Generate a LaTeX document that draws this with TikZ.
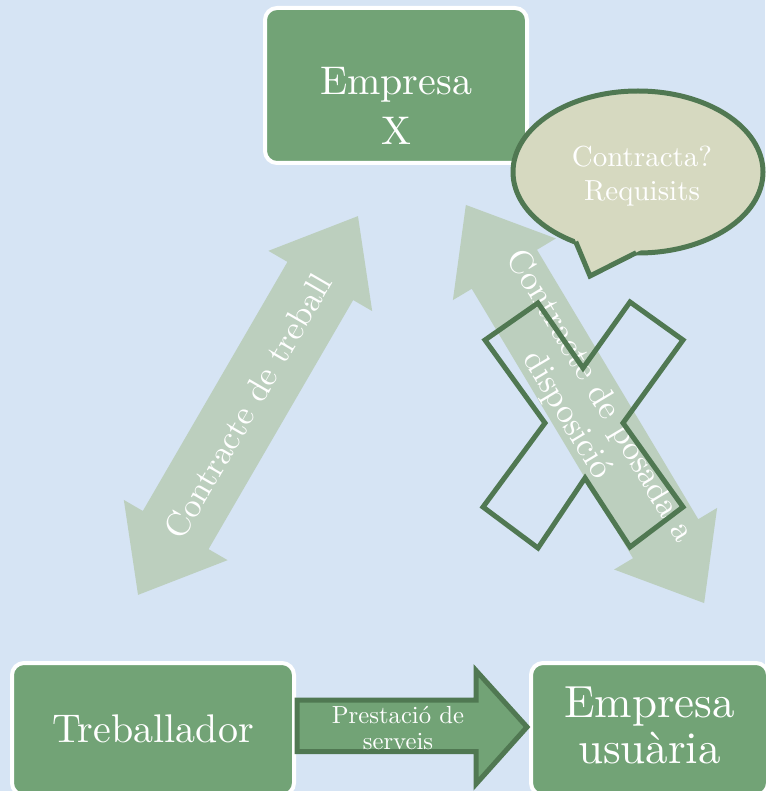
\documentclass[tikz,border=0pt]{standalone}
\usepackage{fontspec}
\setmainfont{lmroman10-regular.otf}
\usetikzlibrary{shapes.geometric}
\definecolor{bgblue}{RGB}{214,228,244}
\definecolor{boxgreen}{RGB}{114,163,118}
\definecolor{darkgreen}{RGB}{80,120,82}
\definecolor{palegreen}{RGB}{188,207,190}
\definecolor{bubblefill}{RGB}{214,217,192}
\begin{document}
\begin{tikzpicture}[x=1pt,y=-1pt,
  gbox/.style={draw=white, line width=4pt, fill=boxgreen, rounded corners=12pt, inner sep=0pt, outer sep=0pt},
  wtext/.style={text=white, align=center, inner sep=0pt},
  arrowtext/.style={wtext, font=\fontsize{34}{38}\selectfont},
  outl/.style={draw=darkgreen, line width=5pt, line join=miter}]
\fill[bgblue] (0,0) rectangle (765,791);
\useasboundingbox (0,0) rectangle (765,791);

% big double arrows
\begin{scope}[shift={(248,405.5)}, rotate=59.86]
\fill[palegreen] (219,0) -- (144,60) -- (144,38) -- (-144,38) -- (-144,60) -- (-219,0) -- (-144,-60) -- (-144,-38) -- (144,-38) -- (144,-60) -- cycle;
\end{scope}
\begin{scope}[shift={(585,404)}, rotate=-59.1]
\fill[palegreen] (232,0) -- (157,60) -- (157,38) -- (-157,38) -- (-157,60) -- (-232,0) -- (-157,-60) -- (-157,-38) -- (157,-38) -- (157,-60) -- cycle;
\end{scope}
\node[arrowtext, rotate=59.86] (t1) at (248,406) {Contracte de treball};
\node[arrowtext, rotate=-59.1] (t2) at (583,406) {Contracte de posada a\\disposició};

% cross mark
\draw[outl] (485,340) -- (538,303) -- (583,368) -- (630,302) -- (683,340) -- (623,423) -- (683,507) -- (630,547) -- (585,478) -- (538,548) -- (483,507) -- (545,423) -- cycle;

% top box
\node[gbox, minimum width=262pt, minimum height=155pt] (empx) at (396,85.5) {};
\node[wtext, font=\fontsize{40}{50}\selectfont] (empxt) at (396,106) {Empresa\\X};

% speech bubble
\node[ellipse, draw=darkgreen, line width=5pt, fill=bubblefill, minimum width=250pt, minimum height=162pt, inner sep=0pt] (bub) at (638,172) {};
\fill[bubblefill] (571.5,231) -- (590,276) -- (645,248) -- cycle;
\draw[outl] (575.7,241.7) -- (590,276) -- (636.2,252.7);
\node[wtext, font=\fontsize{29}{33.5}\selectfont] (bubt) at (642,176) {Contracta?\\Requisits};

% bottom boxes
\node[gbox, minimum width=282pt, minimum height=132pt, text=white, font=\fontsize{40}{48}\selectfont] (trab) at (153,729) {Treballador};
\node[gbox, minimum width=237pt, minimum height=132pt] (usu) at (649.5,729) {};
\node[wtext, font=\fontsize{45}{46}\selectfont] (usut) at (649.5,725) {Empresa\\usuària};

% service arrow
\begin{scope}[shift={(trab.east)}]
\draw[outl, fill=boxgreen] (3,-29) -- (182,-29) -- (182,-58.5) -- (233,-2) -- (182,55) -- (182,22.5) -- (3,22.5) -- cycle;
\end{scope}
\node[wtext, font=\fontsize{24.7}{26}\selectfont] (prest) at (398,728.5) {Prestació de\\serveis};
\end{tikzpicture}
\end{document}
